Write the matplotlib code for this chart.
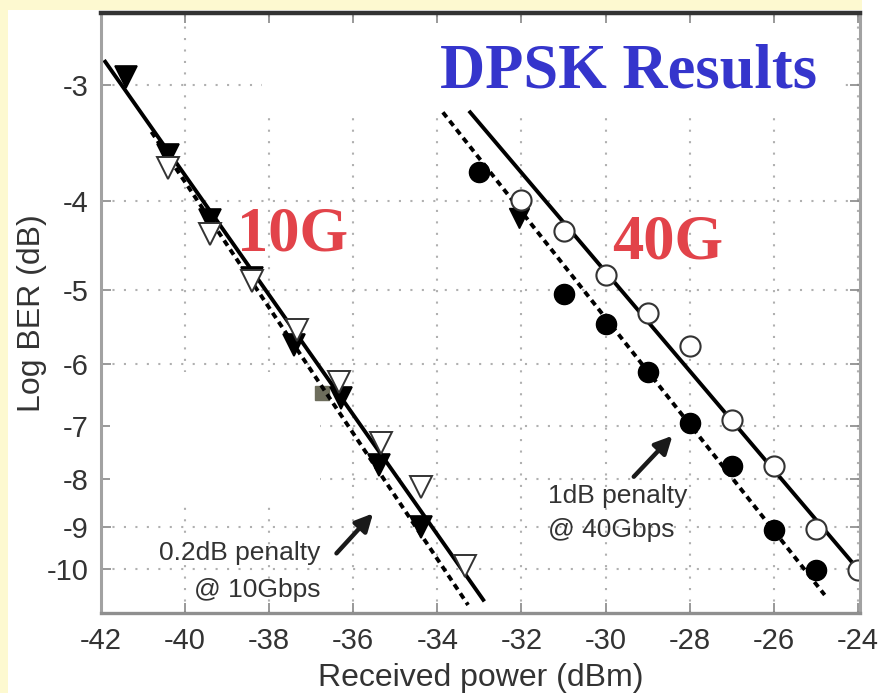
import numpy as np
import matplotlib
matplotlib.use("Agg")
import matplotlib.pyplot as plt
from matplotlib.patches import Rectangle

# ---- data -------------------------------------------------------------
# 10 Gb/s, back-to-back (filled) and after transmission (open)
p10_filled = [-41.4, -40.4, -39.4, -38.4, -37.4, -36.3, -35.4, -34.4]
ber10_filled = [-2.94, -3.57, -4.20, -4.85, -5.73, -6.54, -7.72, -9.00]
p10_open = [-40.4, -39.4, -38.4, -37.35, -36.35, -35.35, -34.4, -33.35]
ber10_open = [-3.69, -4.34, -4.89, -5.52, -6.28, -7.31, -8.15, -9.94]
p10_square = [-36.75]
ber10_square = [-6.45]

# 40 Gb/s
p40_filled = [-33.0, -31.0, -30.0, -29.0, -28.0, -27.0, -26.0, -25.0]
ber40_filled = [-3.72, -5.04, -5.43, -6.13, -6.96, -7.75, -9.08, -10.03]
p40_extra = [-32.05]
ber40_extra = [-4.18]
p40_open = [-32.0, -31.0, -30.0, -29.0, -28.0, -27.0, -26.0, -25.0, -24.0]
ber40_open = [-3.99, -4.31, -4.81, -5.29, -5.74, -6.90, -7.74, -9.06, -10.03]

# fitted lines (end points)
fit10_solid_p = [-41.9, -32.91]
fit10_solid_ber = [-2.83, -10.80]
fit10_dash_p = [-40.8, -33.27]
fit10_dash_ber = [-3.37, -10.94]
fit40_solid_p = [-33.22, -23.98]
fit40_solid_ber = [-3.21, -10.03]
fit40_dash_p = [-33.87, -24.79]
fit40_dash_ber = [-3.21, -10.67]

x_ticks = [-42, -40, -38, -36, -34, -32, -30, -28, -26, -24]
y_ticks = [-3, -4, -5, -6, -7, -8, -9, -10]

# ---- style ------------------------------------------------------------
plt.rcParams["axes.unicode_minus"] = False
plt.rcParams["font.family"] = ["Liberation Sans", "DejaVu Sans"]

YELLOW = "#fdf9d0"
TXT = "#333333"
RED = "#e2434a"
BLUE = "#3535cc"

W, H = 879, 693
fig = plt.figure(figsize=(W / 100, H / 100), dpi=100, facecolor=YELLOW)
fig.patches.append(Rectangle((8 / W, 0), 1 - 8 / W, 1 - 10 / H,
                             transform=fig.transFigure, facecolor="white",
                             edgecolor="none", zorder=-10))
fig.patches.append(Rectangle((862 / W, 1 - 10 / H), 1, 10 / H,
                             transform=fig.transFigure, facecolor="white",
                             edgecolor="none", zorder=-10))

L, R, T, B = 101, 860, 13, 613
ax = fig.add_axes([L / W, 1 - B / H, (R - L) / W, (B - T) / H])
ax.set_zorder(1)
ax.set_facecolor("white")


def fwd(v):
    v = np.asarray(v, dtype=float)
    with np.errstate(invalid="ignore", divide="ignore"):
        return -np.log10(-v)


def inv(u):
    u = np.asarray(u, dtype=float)
    return -10.0 ** (-u)


ax.set_yscale("function", functions=(fwd, inv))
ax.set_xlim(-42, -23.95)
ax.set_ylim(-11.16, -2.507)

ax.set_axisbelow(True)
ax.grid(True, linestyle=(0, (1.0, 4.5)), color="#b0b0b0", linewidth=1.5)

# blanked panels
ax.add_patch(Rectangle((0.212, 0.83), 0.766, 0.151, transform=ax.transAxes,
                       facecolor="white", edgecolor="none", zorder=1))
ax.add_patch(Rectangle((0.012, 0.18), 0.2765, 0.222, transform=ax.transAxes,
                       facecolor="white", edgecolor="none", zorder=1))

# fit lines
ax.plot(fit10_solid_p, fit10_solid_ber, color="black", lw=2.8, zorder=3)
ax.plot(fit10_dash_p, fit10_dash_ber, color="black", lw=2.8,
        linestyle=(0, (1.6, 1.2)), zorder=3)
ax.plot(fit40_solid_p, fit40_solid_ber, color="black", lw=2.8, zorder=3)
ax.plot(fit40_dash_p, fit40_dash_ber, color="black", lw=2.8,
        linestyle=(0, (1.6, 1.2)), zorder=3)

# markers
ax.plot(p10_square, ber10_square, "s", ms=10, color="#6d6d5c",
        mec="#6d6d5c", zorder=2.5)
ax.plot(p10_filled, ber10_filled, "v", ms=16.5, color="black", mec="black",
        mew=1.2, zorder=4)
ax.plot(p10_open, ber10_open, "v", ms=16.5, mfc="white", mec="#333333",
        mew=1.4, zorder=5)
ax.plot(p40_extra, ber40_extra, "v", ms=15, color="black", mec="black",
        zorder=4)
ax.plot(p40_filled, ber40_filled, "o", ms=14.5, color="black", mec="black",
        zorder=4)
ax.plot(p40_open, ber40_open, "o", ms=14.5, mfc="white", mec="#333333",
        mew=1.5, zorder=5)

# axes dressing
ax.set_xticks(x_ticks)
ax.set_xticklabels([str(v) for v in x_ticks])
ax.set_yticks(y_ticks)
ax.set_yticklabels([str(v) for v in y_ticks])
ax.yaxis.set_minor_locator(matplotlib.ticker.NullLocator())
ax.tick_params(axis="both", which="major", direction="in", length=7,
               width=1.2, color="#888888", labelsize=21, labelcolor=TXT,
               top=True, right=True)
ax.tick_params(axis="x", pad=10)
ax.tick_params(axis="y", pad=9)

for side, col, lw in [("left", "#a2a2a2", 2.2), ("bottom", "#8f8f8f", 2.4),
                      ("top", "#333333", 3.2), ("right", "#a2a2a2", 2.2)]:
    ax.spines[side].set_color(col)
    ax.spines[side].set_linewidth(lw)
    ax.spines[side].set_zorder(6)

ax.set_xlabel("Received power (dBm)", fontsize=23, color=TXT, labelpad=6)
ax.set_ylabel("Log BER (dB)", fontsize=23, color=TXT, labelpad=0)

# titles and labels
serif = ["Liberation Serif", "DejaVu Serif"]
ax.text(-33.94, -3.015, "DPSK Results", family=serif, fontweight="bold",
        fontsize=45, color=BLUE, ha="left", va="baseline", zorder=7)
ax.text(-38.77, -4.523, "10G", family=serif, fontweight="bold",
        fontsize=45, color=RED, ha="left", va="baseline", zorder=7)
ax.text(-29.85, -4.613, "40G", family=serif, fontweight="bold",
        fontsize=45, color=RED, ha="left", va="baseline", zorder=7)

ax.text(-36.79, -9.78, "0.2dB penalty", fontsize=19, color=TXT,
        ha="right", va="baseline", zorder=7)
ax.text(-36.79, -10.72, "@ 10Gbps", fontsize=19, color=TXT,
        ha="right", va="baseline", zorder=7)
ax.text(-31.37, -8.49, "1dB penalty", fontsize=19, color=TXT,
        ha="left", va="baseline", zorder=7)
ax.text(-31.37, -9.24, "@ 40Gbps", fontsize=19, color=TXT,
        ha="left", va="baseline", zorder=7)

arrow = dict(arrowstyle="-|>", lw=3.2, color="#1a1a1a", mutation_scale=26,
             shrinkA=0, shrinkB=0)
ax.annotate("", xy=(-35.53, -8.71), xytext=(-36.40, -9.62),
            arrowprops=arrow, zorder=7)
ax.annotate("", xy=(-28.41, -7.18), xytext=(-29.33, -7.95),
            arrowprops=arrow, zorder=7)

fig.savefig("out.png", dpi=100, facecolor=YELLOW)
